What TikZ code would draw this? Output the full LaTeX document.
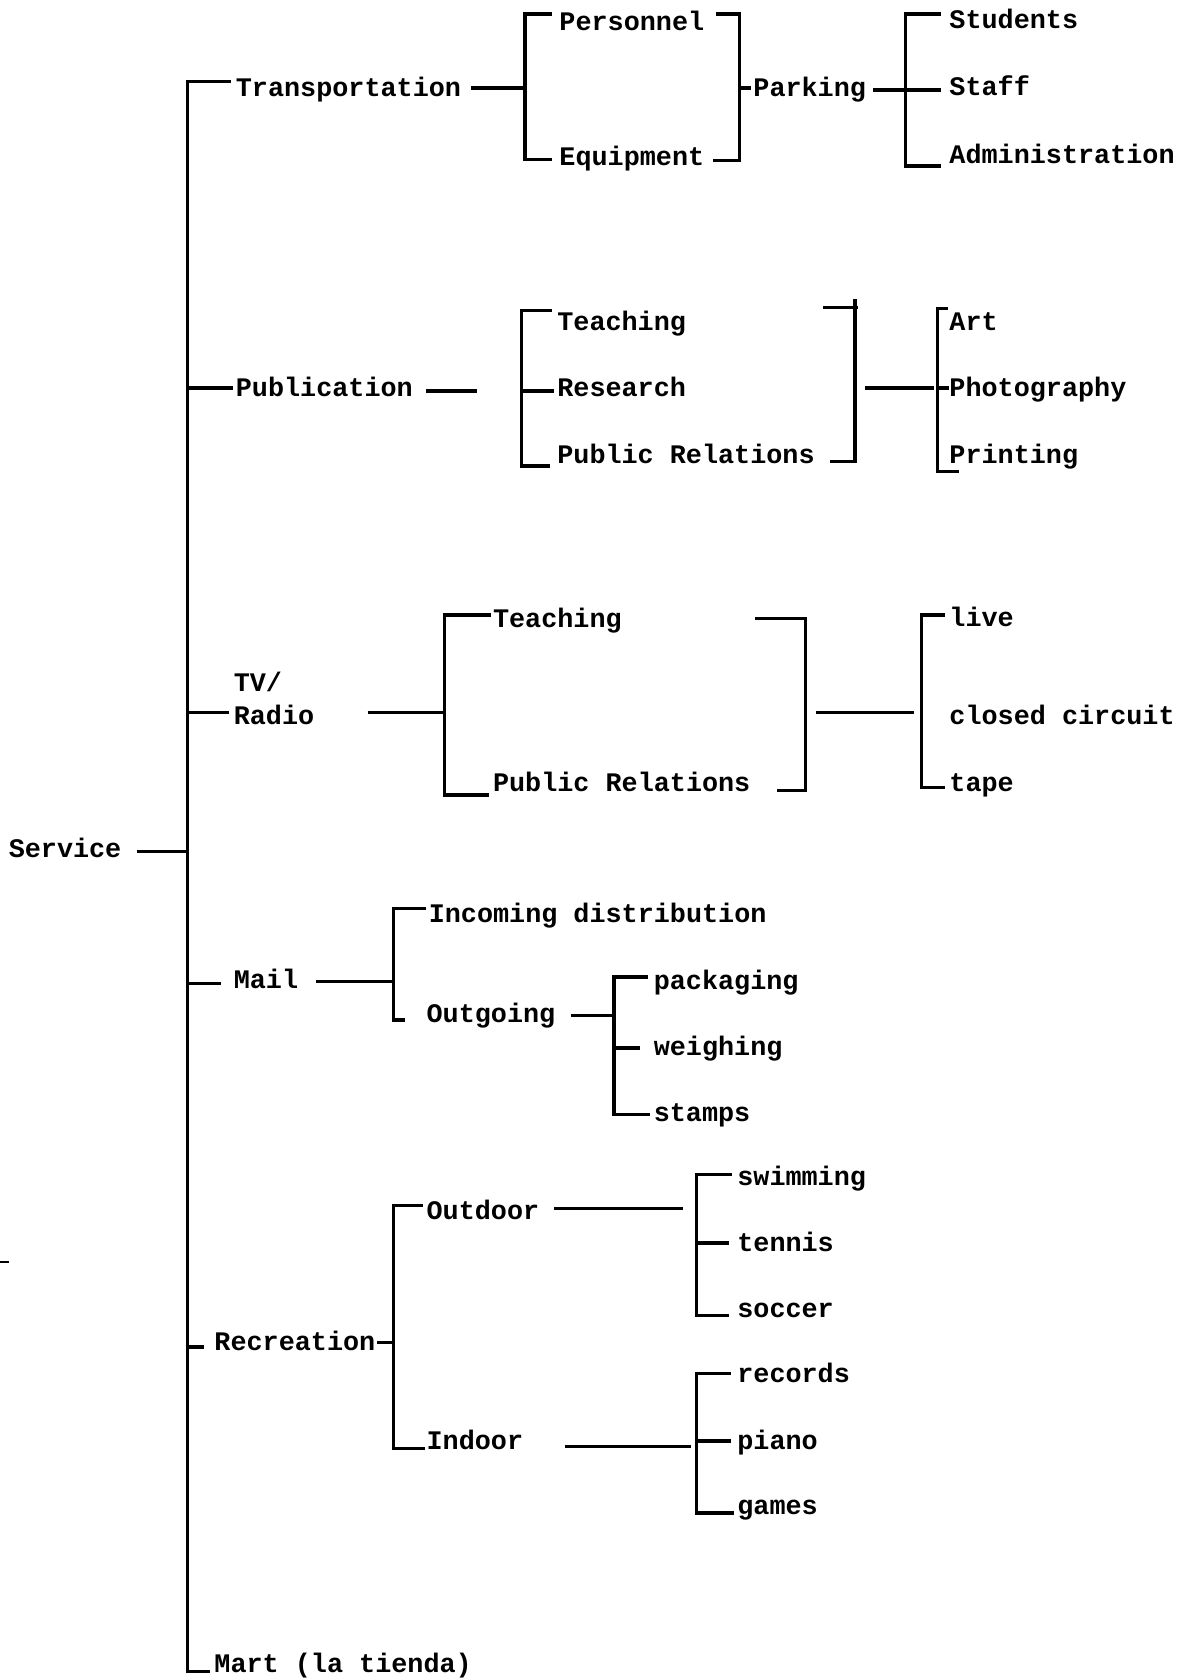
\documentclass[tikz,border=0pt]{standalone}
\usepackage{fontspec}
\setmonofont{Liberation Mono}
\begin{document}
\begin{tikzpicture}[x=1.0715pt,y=-1.0715pt,
  lbl/.style={anchor=west,inner sep=0pt,yshift=-6pt,font=\ttfamily\bfseries\fontsize{26.8pt}{30pt}\selectfont,text height=0.6em,text depth=0pt},
  ln/.style={line width=3.4pt,line cap=butt,line join=miter}]
\useasboundingbox[fill=white] (0,0) rectangle (1105,1568);

% ---------- labels ----------
\node[lbl] (service) at (8,792) {Service};
\node[lbl] (trans) at (220,82) {Transportation};
\node[lbl] (pers) at (522,20) {Personnel};
\node[lbl] (equip) at (522,146) {Equipment};
\node[lbl] (park) at (703,82) {Parking};
\node[lbl] (stud) at (886,18) {Students};
\node[lbl] (staff) at (886,81) {Staff};
\node[lbl] (admin) at (886,144) {Administration};

\node[lbl] (pub) at (220,362) {Publication};
\node[lbl] (pteach) at (520,300) {Teaching};
\node[lbl] (pres) at (520,362) {Research};
\node[lbl] (ppr) at (520,424) {Public Relations};
\node[lbl] (art) at (886,300) {Art};
\node[lbl] (photo) at (886,362) {Photography};
\node[lbl] (print) at (886,424) {Printing};

\node[lbl] (tv) at (218,637) {TV/};
\node[lbl] (radio) at (218,668) {Radio};
\node[lbl] (tteach) at (460,577) {Teaching};
\node[lbl] (tpr) at (460,730) {Public Relations};
\node[lbl] (live) at (886,576) {live};
\node[lbl] (closed) at (886,668) {closed circuit};
\node[lbl] (tape) at (886,730) {tape};

\node[lbl] (mail) at (218,914) {Mail};
\node[lbl] (incoming) at (400,853) {Incoming distribution};
\node[lbl] (outgoing) at (398,946) {Outgoing};
\node[lbl] (pack) at (610,915) {packaging};
\node[lbl] (weigh) at (610,977) {weighing};
\node[lbl] (stamps) at (610,1038) {stamps};

\node[lbl] (rec) at (200,1252) {Recreation};
\node[lbl] (outdoor) at (398,1130) {Outdoor};
\node[lbl] (indoor) at (398,1344) {Indoor};
\node[lbl] (swim) at (688,1098) {swimming};
\node[lbl] (tennis) at (688,1160) {tennis};
\node[lbl] (soccer) at (688,1221) {soccer};
\node[lbl] (records) at (688,1282) {records};
\node[lbl] (piano) at (688,1344) {piano};
\node[lbl] (games) at (688,1405) {games};

\node[lbl] (mart) at (200,1553) {Mart (la tienda)};

% ---------- main trunk ----------
\coordinate (mTe) at (216,76);
\coordinate (mT) at (175,76);
\coordinate (mB) at (175,1560);
\coordinate (mBe) at (196,1560);
\draw[ln] (mTe) -- (mT) -- (mB) -- (mBe);

\coordinate (sv1) at (128,795); \coordinate (sv2) at (175,795);
\draw[ln] (sv1) -- (sv2);
\coordinate (pb1) at (175,362); \coordinate (pb2) at (217,362);
\draw[ln] (pb1) -- (pb2);
\coordinate (tv1) at (175,665); \coordinate (tv2) at (214,665);
\draw[ln] (tv1) -- (tv2);
\coordinate (ml1) at (175,918); \coordinate (ml2) at (206,918);
\draw[ln] (ml1) -- (ml2);
\coordinate (rc1) at (175,1257); \coordinate (rc2) at (190,1257);
\draw[ln] (rc1) -- (rc2);

% ---------- transportation ----------
\coordinate (ta1) at (440,82); \coordinate (ta2) at (490,82);
\draw[ln] (ta1) -- (ta2);
\coordinate (tb1) at (515,13); \coordinate (tb2) at (490,13);
\coordinate (tb3) at (490,149); \coordinate (tb4) at (515,149);
\draw[ln] (tb1) -- (tb2) -- (tb3) -- (tb4);
\coordinate (tc1) at (668,13); \coordinate (tc2) at (690,13);
\coordinate (tc3) at (690,150); \coordinate (tc4) at (665,150);
\draw[ln] (tc1) -- (tc2) -- (tc3) -- (tc4);
\coordinate (td1) at (690,82); \coordinate (td2) at (701,82);
\draw[ln] (td1) -- (td2);
\coordinate (te1) at (815,84); \coordinate (te2) at (878,84);
\draw[ln] (te1) -- (te2);
\coordinate (tf1) at (878,13); \coordinate (tf2) at (845,13);
\coordinate (tf3) at (845,155); \coordinate (tf4) at (878,155);
\draw[ln] (tf1) -- (tf2) -- (tf3) -- (tf4);

% ---------- publication ----------
\coordinate (pa1) at (398,365); \coordinate (pa2) at (445,365);
\draw[ln] (pa1) -- (pa2);
\coordinate (pbr1) at (515,290); \coordinate (pbr2) at (487,290);
\coordinate (pbr3) at (487,435); \coordinate (pbr4) at (513,435);
\draw[ln] (pbr1) -- (pbr2) -- (pbr3) -- (pbr4);
\coordinate (pm1) at (487,365); \coordinate (pm2) at (517,365);
\draw[ln] (pm1) -- (pm2);
\coordinate (pc1) at (768,287); \coordinate (pc2) at (801,287);
\draw[ln] (pc1) -- (pc2);
\coordinate (pc3) at (798,279); \coordinate (pc4) at (798,431);
\coordinate (pc5) at (775,431);
\draw[ln] (pc3) -- (pc4) -- (pc5);
\coordinate (pd1) at (807,362); \coordinate (pd2) at (872,362);
\draw[ln] (pd1) -- (pd2);
\coordinate (pe1) at (885,288); \coordinate (pe2) at (875,288);
\coordinate (pe3) at (875,440); \coordinate (pe4) at (895,440);
\draw[ln] (pe1) -- (pe2) -- (pe3) -- (pe4);
\coordinate (pf1) at (875,362); \coordinate (pf2) at (886,362);
\draw[ln] (pf1) -- (pf2);

% ---------- TV / radio ----------
\coordinate (ra1) at (343,665); \coordinate (ra2) at (415,665);
\draw[ln] (ra1) -- (ra2);
\coordinate (rb1) at (458,574); \coordinate (rb2) at (415,574);
\coordinate (rb3) at (415,742); \coordinate (rb4) at (456,742);
\draw[ln] (rb1) -- (rb2) -- (rb3) -- (rb4);
\coordinate (rc1b) at (705,577); \coordinate (rc2b) at (752,577);
\coordinate (rc3b) at (752,738); \coordinate (rc4b) at (725,738);
\draw[ln] (rc1b) -- (rc2b) -- (rc3b) -- (rc4b);
\coordinate (rd1) at (762,665); \coordinate (rd2) at (853,665);
\draw[ln] (rd1) -- (rd2);
\coordinate (re1) at (882,574); \coordinate (re2) at (860,574);
\coordinate (re3) at (860,735); \coordinate (re4) at (882,735);
\draw[ln] (re1) -- (re2) -- (re3) -- (re4);

% ---------- mail ----------
\coordinate (ma1) at (295,916); \coordinate (ma2) at (367,916);
\draw[ln] (ma1) -- (ma2);
\coordinate (mb1) at (398,848); \coordinate (mb2) at (367,848);
\coordinate (mb3) at (367,952); \coordinate (mb4) at (378,952);
\draw[ln] (mb1) -- (mb2) -- (mb3) -- (mb4);
\coordinate (mc1) at (533,948); \coordinate (mc2) at (573,948);
\draw[ln] (mc1) -- (mc2);
\coordinate (md1) at (605,912); \coordinate (md2) at (573,912);
\coordinate (md3) at (573,1040); \coordinate (md4) at (607,1040);
\draw[ln] (md1) -- (md2) -- (md3) -- (md4);
\coordinate (me1) at (573,978); \coordinate (me2) at (597,978);
\draw[ln] (me1) -- (me2);

% ---------- recreation ----------
\coordinate (ea1) at (352,1253); \coordinate (ea2) at (367,1253);
\draw[ln] (ea1) -- (ea2);
\coordinate (eb1) at (395,1125); \coordinate (eb2) at (367,1125);
\coordinate (eb3) at (367,1352); \coordinate (eb4) at (397,1352);
\draw[ln] (eb1) -- (eb2) -- (eb3) -- (eb4);
\coordinate (ec1) at (517,1128); \coordinate (ec2) at (637,1128);
\draw[ln] (ec1) -- (ec2);
\coordinate (ed1) at (683,1096); \coordinate (ed2) at (650,1096);
\coordinate (ed3) at (650,1228); \coordinate (ed4) at (680,1228);
\draw[ln] (ed1) -- (ed2) -- (ed3) -- (ed4);
\coordinate (ee1) at (650,1160); \coordinate (ee2) at (680,1160);
\draw[ln] (ee1) -- (ee2);
\coordinate (ef1) at (527,1350); \coordinate (ef2) at (645,1350);
\draw[ln] (ef1) -- (ef2);
\coordinate (eg1) at (682,1282); \coordinate (eg2) at (650,1282);
\coordinate (eg3) at (650,1412); \coordinate (eg4) at (685,1412);
\draw[ln] (eg1) -- (eg2) -- (eg3) -- (eg4);
\coordinate (eh1) at (650,1345); \coordinate (eh2) at (682,1345);
\draw[ln] (eh1) -- (eh2);

% stray mark at the left edge
\coordinate (st1) at (0,1178); \coordinate (st2) at (8,1178);
\draw[line width=1.6pt] (st1) -- (st2);
\end{tikzpicture}
\end{document}
